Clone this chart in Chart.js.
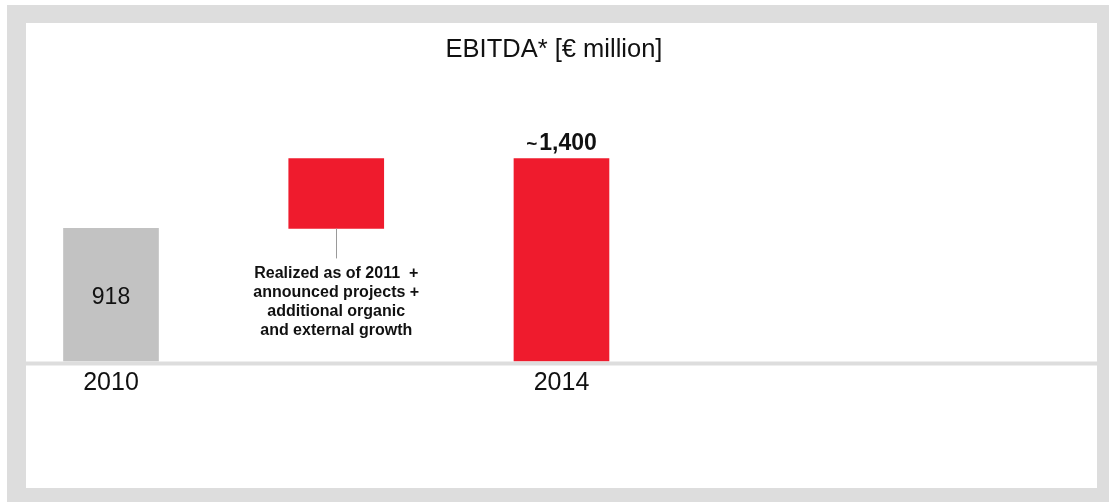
<!DOCTYPE html>
<html>
<head>
<meta charset="utf-8">
<script src="https://cdn.jsdelivr.net/npm/chart.js@4"></script>
<style>
  html, body { margin: 0; padding: 0; background: #fff; overflow: hidden; }
  #frame { position: absolute; left: 7px; top: 5px; width: 1102px; height: 497px; background: #dddddd; }
  #panel { position: absolute; left: 19px; top: 18px; width: 1071px; height: 465px; background: #fff; }
</style>
</head>
<body>
<div id="frame">
  <div id="panel">
    <canvas id="ebitdaChart" width="1071" height="465"></canvas>
  </div>
</div>
<script>
// data
const categories = ["2010", "Growth", "2014"];
const barStart = [0, 918, 0];
const barEnd = [918, 1400, 1400];
const barColors = ["#c2c2c2", "#ef1b2d", "#ef1b2d"];
const xTickLabels = ["2010", "", "2014"];
const valueLabels = ["918", "", "1,400"];
const growthNote = ["Realized as of 2011  +", "announced projects +", "additional organic", "and external growth"];

const FONT = '"Liberation Sans", Arial, Helvetica, sans-serif';

const labelPlugin = {
  id: "barLabels",
  afterDatasetsDraw(chart) {
    const ctx = chart.ctx;
    const bars = chart.getDatasetMeta(0).data;
    const area = chart.chartArea;
    ctx.save();

    // baseline strip
    ctx.fillStyle = "#dddddd";
    ctx.fillRect(0, area.bottom, chart.width, 4);

    // 918 inside the grey bar
    const b0 = bars[0];
    ctx.fillStyle = "#111";
    ctx.font = "23px " + FONT;
    ctx.textAlign = "center";
    ctx.textBaseline = "middle";
    ctx.fillText(valueLabels[0], b0.x, (b0.y + b0.base) / 2 + 3);

    // ~1,400 above last bar
    const b2 = bars[2];
    ctx.textBaseline = "alphabetic";
    ctx.textAlign = "left";
    ctx.font = "bold 19px " + FONT;
    const tw = ctx.measureText("~").width;
    ctx.font = "bold 23px " + FONT;
    const nw = ctx.measureText(valueLabels[2]).width;
    const startX = b2.x - (tw + 2 + nw) / 2;
    ctx.font = "bold 19px " + FONT;
    ctx.fillText("~", startX, b2.y - 9);
    ctx.font = "bold 23px " + FONT;
    ctx.fillText(valueLabels[2], startX + tw + 2, b2.y - 9);

    // connector + note under the floating bar
    const b1 = bars[1];
    ctx.strokeStyle = "#9a9a9a";
    ctx.lineWidth = 1;
    ctx.beginPath();
    ctx.moveTo(Math.round(b1.x) + 0.5, b1.base);
    ctx.lineTo(Math.round(b1.x) + 0.5, b1.base + 30);
    ctx.stroke();

    ctx.fillStyle = "#111";
    ctx.font = "bold 16px " + FONT;
    ctx.textAlign = "center";
    growthNote.forEach((line, i) => {
      ctx.fillText(line, b1.x, b1.base + 50 + i * 19);
    });

    ctx.restore();
  }
};

new Chart(document.getElementById("ebitdaChart"), {
  type: "bar",
  data: {
    datasets: [{
      label: "EBITDA",
      data: categories.map((c, i) => ({ x: i, y: [barStart[i], barEnd[i]] })),
      backgroundColor: barColors,
      borderWidth: 0,
      barThickness: 95
    }]
  },
  options: {
    responsive: false,
    animation: false,
    devicePixelRatio: 1,
    layout: { padding: { top: 0, right: 15, bottom: 83.5, left: 0 } },
    plugins: {
      legend: { display: false },
      tooltip: { enabled: false },
      title: {
        display: true,
        text: "EBITDA* [€ million]",
        color: "#111",
        font: { family: FONT, size: 25.5, weight: "normal" },
        padding: { top: 12, bottom: 6 }
      }
    },
    scales: {
      x: {
        type: "linear",
        offset: false,
        min: -0.3774,
        max: 4.311,
        grid: { display: false, drawTicks: false },
        border: { display: false },
        afterBuildTicks: (scale) => {
          scale.ticks = xTickLabels.map((l, i) => ({ value: i }));
        },
        ticks: {
          autoSkip: false,
          maxRotation: 0,
          padding: 6.5,
          color: "#111",
          font: { family: FONT, size: 25 },
          callback: (v) => xTickLabels[v] || ""
        }
      },
      y: {
        display: false,
        min: 0,
        max: 2000
      }
    }
  },
  plugins: [labelPlugin]
});
</script>
</body>
</html>
